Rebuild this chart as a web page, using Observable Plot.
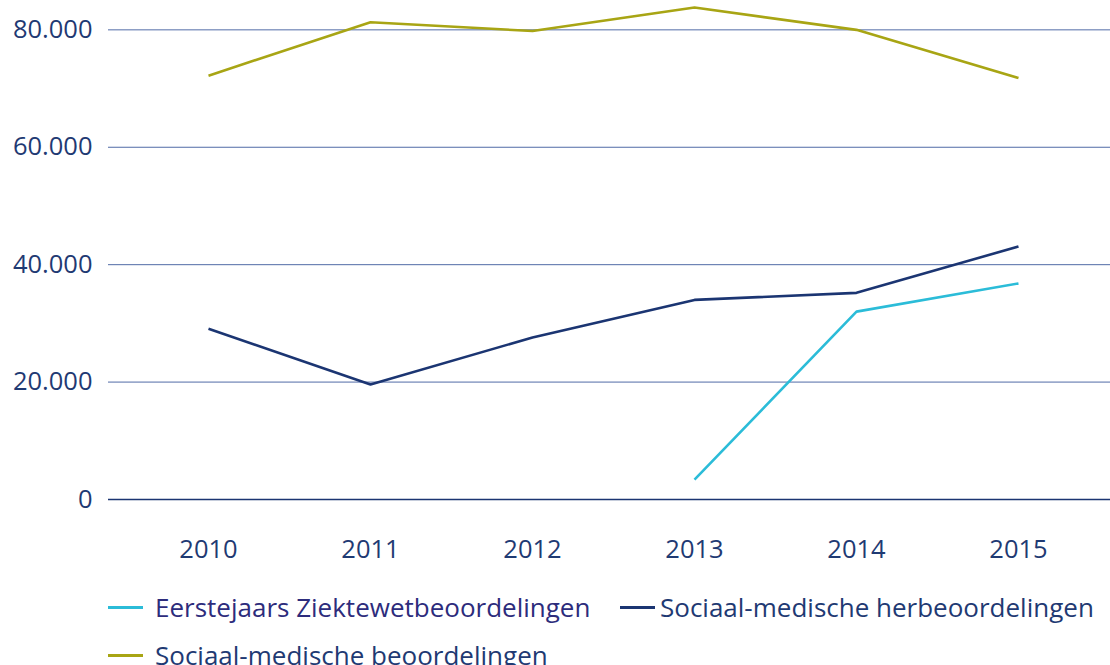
<!DOCTYPE html>
<html>
<head>
<meta charset="utf-8">
<script src="https://cdn.jsdelivr.net/npm/d3@7"></script>
<script src="https://cdn.jsdelivr.net/npm/@observablehq/plot@0.6"></script>
<style>
  html, body { margin: 0; padding: 0; background: #fff; }
  #wrap { position: relative; width: 1110px; height: 665px; overflow: hidden; font-family: "Open Sans", sans-serif; }
  #legend { position: absolute; left: 0; top: 588px; width: 1110px; }
  .item { position: absolute; display: flex; align-items: center; font-size: 26px; white-space: nowrap; line-height: 36px; }
  .sw { display: inline-block; height: 3px; }
</style>
</head>
<body>
<div id="wrap"><div id="chart"></div><div id="legend"></div></div>
<script>
const years = ["2010", "2011", "2012", "2013", "2014", "2015"];
const seriesNames = ["Eerstejaars Ziektewetbeoordelingen", "Sociaal-medische herbeoordelingen", "Sociaal-medische beoordelingen"];
const eerstejaars = [null, null, null, 3400, 32000, 36800];
const herbeoordelingen = [29100, 19600, 27600, 34000, 35200, 43100];
const beoordelingen = [72200, 81300, 79800, 83800, 80000, 71800];
const yTicks = [0, 20000, 40000, 60000, 80000];
const colors = ["#2bbcd8", "#1b3572", "#a8a514"];

const valuesBySeries = [eerstejaars, herbeoordelingen, beoordelingen];
const rows = [];
seriesNames.forEach((s, i) => years.forEach((y, j) => {
  if (valuesBySeries[i][j] != null) rows.push({series: s, year: y, value: valuesBySeries[i][j]});
}));

const nl = d3.formatLocale({decimal: ",", thousands: ".", grouping: [3], currency: ["€", ""]});
const fmt = nl.format(",.0f");

const chart = Plot.plot({
  width: 1110,
  height: 580,
  marginTop: 0,
  marginLeft: 108,
  marginRight: 0,
  marginBottom: 81,
  style: {fontFamily: "Open Sans, sans-serif", background: "#fff", overflow: "visible"},
  x: {type: "point", domain: years, range: [206, 1019], padding: 0, label: null, tickSize: 0},
  y: {domain: [0, 85000], ticks: yTicks, tickFormat: fmt, label: null, tickSize: 0},
  color: {domain: seriesNames, range: colors},
  marks: [
    Plot.ruleY(yTicks.filter(d => d > 0), {stroke: "#3d5a9c", strokeWidth: 1, strokeOpacity: 0.9}),
    Plot.ruleY([0], {stroke: "#1b3572", strokeWidth: 1.6}),
    Plot.axisY({ticks: yTicks, tickFormat: fmt, tickSize: 0, tickPadding: 16, fontSize: 25.5, color: "#1f3a73", anchor: "left"}),
    Plot.axisX({tickSize: 0, tickPadding: 40, fontSize: 25.5, color: "#1f3a73", anchor: "bottom"}),
    Plot.line(rows, {x: "year", y: "value", z: "series", stroke: "series", strokeWidth: 2.6, strokeLinejoin: "miter", strokeLinecap: "butt"})
  ]
});
document.getElementById("chart").appendChild(chart);

const legend = document.getElementById("legend");
const items = [
  {name: seriesNames[0], color: colors[0], text: "#2d2c7c", left: 108, top: 1, gap: 12},
  {name: seriesNames[1], color: colors[1], text: "#1f3a73", left: 620, top: 1, gap: 5},
  {name: seriesNames[2], color: colors[2], text: "#1f3a73", left: 108, top: 49, gap: 12}
];
items.forEach(it => {
  const d = document.createElement("div");
  d.className = "item";
  d.style.left = it.left + "px";
  d.style.top = it.top + "px";
  d.style.color = it.text;
  const sw = document.createElement("span");
  sw.className = "sw";
  sw.style.width = "35px";
  sw.style.background = it.color;
  sw.style.marginRight = it.gap + "px";
  const t = document.createElement("span");
  t.textContent = it.name;
  d.appendChild(sw); d.appendChild(t);
  legend.appendChild(d);
});
</script>
</body>
</html>
